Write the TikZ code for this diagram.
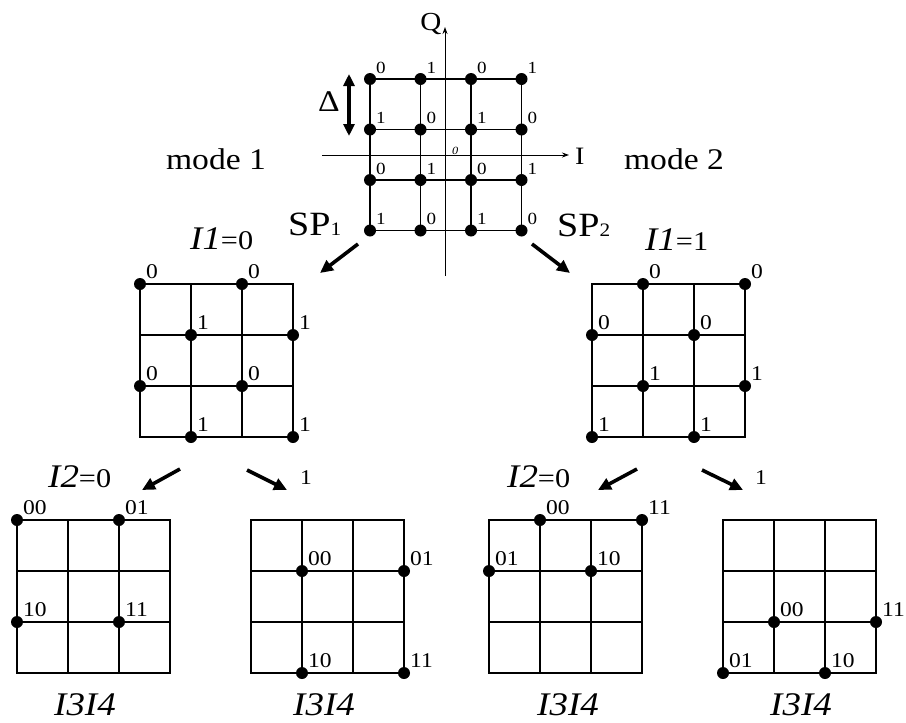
\documentclass[tikz,border=0pt]{standalone}
\usepackage{fontspec}
\setmainfont{Liberation Serif}[FakeStretch=1.12]
\usetikzlibrary{arrows.meta}
\newcommand\myfs[1]{\fontsize{#1}{#1}\selectfont}
% grid: x0, y0, step, name
\newcommand\mygrid[4]{%
  \foreach \k in {0,1,2,3}{%
    \draw[gridline] ({#1+\k*#3},#2) -- ({#1+\k*#3},{#2+3*#3});
    \draw[gridline] (#1,{#2+\k*#3}) -- ({#1+3*#3},{#2+\k*#3});
  }%
  \foreach \c in {0,1,2,3}{\foreach \r in {0,1,2,3}{%
    \coordinate (#4-\c-\r) at ({#1+\c*#3},{#2+\r*#3});}}%
}
% labelled dot: coordinate name, size, text
\newcommand\mydot[3]{%
  \node[dot] (#1d) at (#1) {};
  \node[dotlab, font=\myfs{#2}] (#1t) at (#1) {#3};
}
\begin{document}
\begin{tikzpicture}[x=1pt,y=-1pt,
  gridline/.style={line width=1.4pt, line cap=rect},
  axisline/.style={line width=0.9pt, -{Stealth[length=7pt,width=5pt]}},
  dot/.style={circle, fill=black, inner sep=0pt, minimum size=12pt},
  dotlab/.style={inner sep=0pt, anchor=base west, xshift=6pt, yshift=6pt},
  bigarrow/.style={line width=3.6pt, -{Triangle[length=13pt,width=12pt]}},
  dblarrow/.style={line width=3.6pt, {Triangle[length=12pt,width=11pt]}-{Triangle[length=12pt,width=11pt]}},
  txt/.style={inner sep=0pt, anchor=base west},
  ctxt/.style={inner sep=0pt, anchor=base}
]
\useasboundingbox (0,0) rectangle (906,723);

% ---------- top constellation ----------
\mygrid{370}{79}{50.5}{g0}
\coordinate (qs) at (445,276);
\coordinate (qe) at (445,27);
\coordinate (is) at (322,155);
\coordinate (ie) at (569,155);
\draw[axisline] (qs) -- (qe);
\draw[axisline] (is) -- (ie);
\node[ctxt, font=\myfs{26}] (Q) at (431,30) {Q};
\node[txt, font=\myfs{25}] (I) at (575,164) {I};
\node[txt, font=\myfs{11}\itshape] (O) at (452,154) {0};

\coordinate (ds) at (349,74);
\coordinate (de) at (349,136);
\draw[dblarrow] (ds) -- (de);
\node[ctxt, font=\myfs{30}] (Delta) at (329,111) {Δ};

\foreach \c/\r/\t in {0/0/0,1/0/1,2/0/0,3/0/1,
                      0/1/1,1/1/0,2/1/1,3/1/0,
                      0/2/0,1/2/1,2/2/0,3/2/1,
                      0/3/1,1/3/0,2/3/1,3/3/0}{%
  \mydot{g0-\c-\r}{17}{\t}
}

\node[ctxt, font=\myfs{30}] (mode1) at (216,169) {mode 1};
\node[ctxt, font=\myfs{30}] (mode2) at (674,169) {mode 2};
\node[txt, font=\myfs{34}] (sp1) at (288,235) {SP{\myfs{19}1}};
\node[txt, font=\myfs{34}] (sp2) at (557,236) {SP{\myfs{19}2}};

\coordinate (a1s) at (358,244);
\coordinate (a1e) at (320,273);
\coordinate (a2s) at (532,244);
\coordinate (a2e) at (570,273);
\draw[bigarrow] (a1s) -- (a1e);
\draw[bigarrow] (a2s) -- (a2e);

% ---------- middle constellations ----------
\node[txt] (l11a) at (190,249) {{\myfs{33}\itshape I1}{\myfs{27}=0}};
\node[txt] (l11b) at (645,250) {{\myfs{33}\itshape I1}{\myfs{27}=1}};

\mygrid{140}{284}{51}{g1}
\foreach \c/\r/\t in {0/0/0,2/0/0,1/1/1,3/1/1,0/2/0,2/2/0,1/3/1,3/3/1}{%
  \mydot{g1-\c-\r}{21}{\t}
}
\mygrid{592}{284}{51}{g2}
\foreach \c/\r/\t in {1/0/0,3/0/0,0/1/0,2/1/0,1/2/1,3/2/1,0/3/1,2/3/1}{%
  \mydot{g2-\c-\r}{21}{\t}
}

% ---------- arrows to bottom ----------
\coordinate (b1s) at (180,469);
\coordinate (b1e) at (142,490);
\coordinate (b2s) at (247,470);
\coordinate (b2e) at (287,490);
\coordinate (b3s) at (637,469);
\coordinate (b3e) at (598,490);
\coordinate (b4s) at (702,470);
\coordinate (b4e) at (743,490);
\draw[bigarrow] (b1s) -- (b1e);
\draw[bigarrow] (b2s) -- (b2e);
\draw[bigarrow] (b3s) -- (b3e);
\draw[bigarrow] (b4s) -- (b4e);

\node[txt] (l12a) at (48,487) {{\myfs{33}\itshape I2}{\myfs{27}=0}};
\node[txt] (l12b) at (507,487) {{\myfs{33}\itshape I2}{\myfs{27}=0}};
\node[txt, font=\myfs{21}] (one1) at (300,484) {1};
\node[txt, font=\myfs{21}] (one2) at (755,484) {1};

% ---------- bottom constellations ----------
\mygrid{17}{520}{51}{g3}
\foreach \c/\r/\t in {0/0/00,2/0/01,0/2/10,2/2/11}{%
  \mydot{g3-\c-\r}{21}{\t}
}
\mygrid{251}{520}{51}{g4}
\foreach \c/\r/\t in {1/1/00,3/1/01,1/3/10,3/3/11}{%
  \mydot{g4-\c-\r}{21}{\t}
}
\mygrid{489}{520}{51}{g5}
\foreach \c/\r/\t in {1/0/00,3/0/11,0/1/01,2/1/10}{%
  \mydot{g5-\c-\r}{21}{\t}
}
\mygrid{723}{520}{51}{g6}
\foreach \c/\r/\t in {1/2/00,3/2/11,0/3/01,2/3/10}{%
  \mydot{g6-\c-\r}{21}{\t}
}

\node[ctxt, font=\myfs{33}\itshape] (b1) at (85,715) {I3I4};
\node[ctxt, font=\myfs{33}\itshape] (b2) at (324,715) {I3I4};
\node[ctxt, font=\myfs{33}\itshape] (b3) at (568,715) {I3I4};
\node[ctxt, font=\myfs{33}\itshape] (b4) at (801,715) {I3I4};
\end{tikzpicture}
\end{document}
